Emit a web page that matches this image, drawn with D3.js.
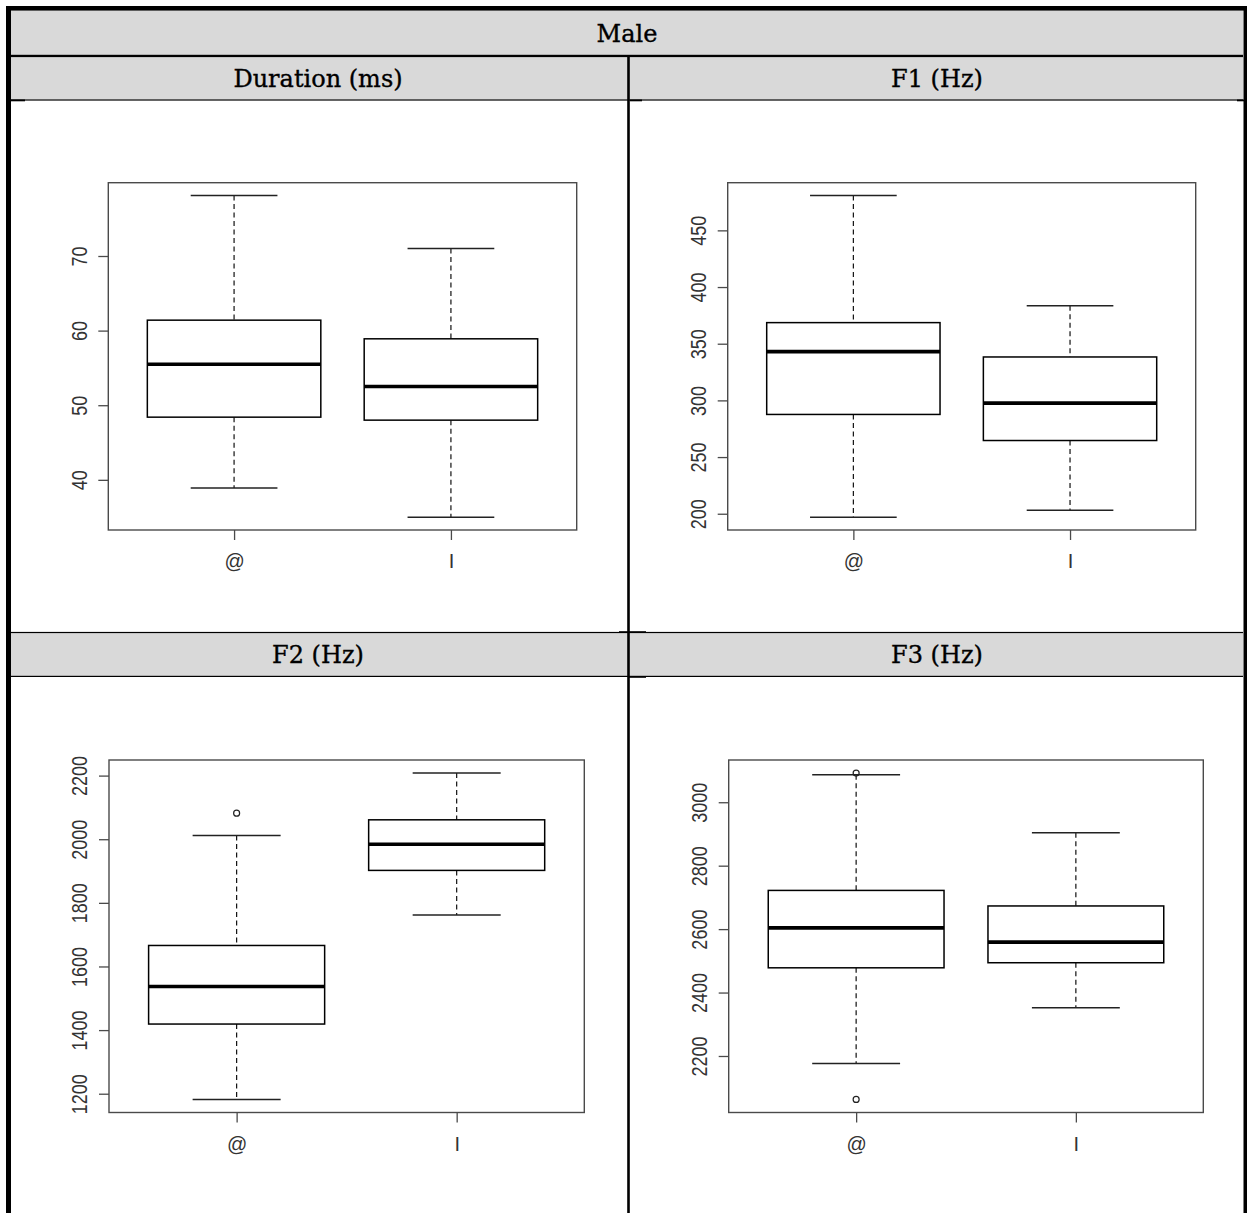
<!DOCTYPE html>
<html>
<head>
<meta charset="utf-8">
<script src="https://cdn.jsdelivr.net/npm/d3@7"></script>
<style>
  html, body { margin: 0; padding: 0; background: #fff; }
  svg { display: block; }
</style>
</head>
<body>
<svg id="chart" width="1247" height="1213"></svg>
<script>
// ---------------- DATA ----------------
const tableTitle = "Male";
const panelTitles = ["Duration (ms)", "F1 (Hz)", "F2 (Hz)", "F3 (Hz)"];
const categories = ["@", "I"];

// Duration (ms)
const durLower   = [38.9, 35.0];
const durQ1      = [48.4, 48.0];
const durMedian  = [55.5, 52.5];
const durQ3      = [61.4, 58.9];
const durUpper   = [78.1, 71.0];
const durOutliers = [[], []];
const durTicks   = [40, 50, 60, 70];

// F1 (Hz)
const f1Lower   = [197, 203];
const f1Q1      = [287.6, 264.6];
const f1Median  = [343, 297.6];
const f1Q3      = [368.6, 338.3];
const f1Upper   = [480.7, 383.6];
const f1Outliers = [[], []];
const f1Ticks   = [200, 250, 300, 350, 400, 450];

// F2 (Hz)
const f2Lower   = [1182, 1762];
const f2Q1      = [1419, 1902];
const f2Median  = [1537, 1984];
const f2Q3      = [1666, 2061];
const f2Upper   = [2012, 2208];
const f2Outliers = [[2082], []];
const f2Ticks   = [1200, 1400, 1600, 1800, 2000, 2200];

// F3 (Hz)
const f3Lower   = [2176, 2352];
const f3Q1      = [2478, 2494];
const f3Median  = [2604, 2559];
const f3Q3      = [2722, 2673];
const f3Upper   = [3087, 2904];
const f3Outliers = [[3092, 2063], []];
const f3Ticks   = [2200, 2400, 2600, 2800, 3000];

// ---------------- LAYOUT ----------------
const plotRects = [
  {left: 108.3, right: 576.7, top: 182.7, bottom: 530},
  {left: 727.7, right: 1195.7, top: 182.7, bottom: 530},
  {left: 109, right: 584.3, top: 760, bottom: 1112.5},
  {left: 728.7, right: 1203.3, top: 760, bottom: 1112.5}
];

const panels = [
  {lower: durLower, q1: durQ1, med: durMedian, q3: durQ3, upper: durUpper, out: durOutliers, ticks: durTicks},
  {lower: f1Lower, q1: f1Q1, med: f1Median, q3: f1Q3, upper: f1Upper, out: f1Outliers, ticks: f1Ticks},
  {lower: f2Lower, q1: f2Q1, med: f2Median, q3: f2Q3, upper: f2Upper, out: f2Outliers, ticks: f2Ticks},
  {lower: f3Lower, q1: f3Q1, med: f3Median, q3: f3Q3, upper: f3Upper, out: f3Outliers, ticks: f3Ticks}
];

const svg = d3.select("#chart");
const W = 1247, H = 1213;
const gray = "#d9d9d9";
const headerFont = "'DejaVu Serif', 'Liberation Serif', serif";
const axisFont = "'Liberation Sans', Arial, sans-serif";

// ---------------- TABLE ----------------
const tbl = svg.append("g");
tbl.append("rect").attr("x", 0).attr("y", 0).attr("width", W).attr("height", H).attr("fill", "#fff");
// header rows
tbl.append("rect").attr("x", 11).attr("y", 10.5).attr("width", 1232).attr("height", 44.5).attr("fill", gray);
tbl.append("rect").attr("x", 11).attr("y", 57).attr("width", 1232).attr("height", 42.5).attr("fill", gray);
tbl.append("rect").attr("x", 11).attr("y", 632.5).attr("width", 1232).attr("height", 43.5).attr("fill", gray);
// lines
tbl.append("rect").attr("x", 11).attr("y", 54.8).attr("width", 1232).attr("height", 2.3).attr("fill", "#000");
tbl.append("rect").attr("x", 11).attr("y", 99.4).attr("width", 1232).attr("height", 1.2).attr("fill", "#000");
tbl.append("rect").attr("x", 11).attr("y", 631.9).attr("width", 1232).attr("height", 1.2).attr("fill", "#000");
tbl.append("rect").attr("x", 11).attr("y", 675.8).attr("width", 1232).attr("height", 1.2).attr("fill", "#000");
// small cell-corner marks
tbl.append("rect").attr("x", 11).attr("y", 99.5).attr("width", 14).attr("height", 1.8).attr("fill", "#000");
tbl.append("rect").attr("x", 619).attr("y", 631.2).attr("width", 27).attr("height", 1.8).attr("fill", "#000");
tbl.append("rect").attr("x", 628).attr("y", 676).attr("width", 18).attr("height", 1.8).attr("fill", "#000");
tbl.append("rect").attr("x", 630).attr("y", 99.5).attr("width", 12).attr("height", 1.8).attr("fill", "#000");
tbl.append("rect").attr("x", 1237).attr("y", 99.5).attr("width", 7).attr("height", 1.8).attr("fill", "#000");
// vertical divider
tbl.append("rect").attr("x", 627.2).attr("y", 57).attr("width", 2.6).attr("height", H - 57).attr("fill", "#000");
// outer borders
tbl.append("rect").attr("x", 6).attr("y", 6).attr("width", 5).attr("height", H - 6).attr("fill", "#000");
tbl.append("rect").attr("x", 6).attr("y", 6).attr("width", W - 6).attr("height", 4.6).attr("fill", "#000");
tbl.append("rect").attr("x", 1243.5).attr("y", 6).attr("width", 4).attr("height", H - 6).attr("fill", "#000");

// header texts
function headerText(txt, cx, cy) {
  tbl.append("text").attr("x", cx).attr("y", cy)
    .attr("text-anchor", "middle").attr("dominant-baseline", "central")
    .attr("font-family", headerFont).attr("font-size", 24).attr("fill", "#000")
    .attr("stroke", "#000").attr("stroke-width", 0.35)
    .text(txt);
}
headerText(tableTitle, 627, 34);
headerText(panelTitles[0], 318, 79);
headerText(panelTitles[1], 937, 79);
headerText(panelTitles[2], 318, 655);
headerText(panelTitles[3], 937, 655);

// ---------------- BOXPLOTS ----------------
panels.forEach((p, i) => {
  const r = plotRects[i];
  const allVals = [].concat(p.lower, p.upper, ...p.out);
  const [mn, mx] = d3.extent(allVals);
  const pad = (mx - mn) * 0.04;
  const y = d3.scaleLinear().domain([mn - pad, mx + pad]).range([r.bottom, r.top]);
  const n = categories.length;
  const xpad = n * 0.04;
  const x = d3.scaleLinear().domain([0.5 - xpad, n + 0.5 + xpad]).range([r.left, r.right]);
  const g = svg.append("g");

  // frame
  g.append("rect").attr("x", r.left).attr("y", r.top)
    .attr("width", r.right - r.left).attr("height", r.bottom - r.top)
    .attr("fill", "none").attr("stroke", "#4a4a4a").attr("stroke-width", 1.4);

  // y axis
  const yAxis = d3.axisLeft(y).tickValues(p.ticks).tickSize(10).tickFormat(d3.format("d"));
  const ya = g.append("g").attr("transform", `translate(${r.left},0)`).call(yAxis);
  ya.select(".domain").remove();
  ya.selectAll(".tick line").attr("stroke", "#4a4a4a").attr("stroke-width", 1.3);
  ya.selectAll(".tick text").remove();
  ya.selectAll(".tick").append("g")
    .attr("transform", "translate(-29.5,0) scale(1.2,1) rotate(-90)")
    .append("text")
    .attr("text-anchor", "middle").attr("dy", "0.36em")
    .attr("font-family", axisFont).attr("font-size", 18).attr("fill", "#333")
    .text(d => d3.format("d")(d));

  // x axis
  const xAxis = d3.axisBottom(x).tickValues(d3.range(1, n + 1)).tickSize(10).tickFormat(d => categories[d - 1]);
  const xa = g.append("g").attr("transform", `translate(0,${r.bottom})`).call(xAxis);
  xa.select(".domain").remove();
  xa.selectAll(".tick line").attr("stroke", "#4a4a4a").attr("stroke-width", 1.3);
  xa.selectAll(".tick text").attr("y", 31).attr("dy", "0.36em")
    .attr("font-family", axisFont).attr("font-size", 20).attr("fill", "#333");

  categories.forEach((c, k) => {
    const cx = x(k + 1);
    const bx0 = x(k + 1 - 0.4), bx1 = x(k + 1 + 0.4);
    const cx0 = x(k + 1 - 0.2), cx1 = x(k + 1 + 0.2);
    // whiskers (dashed)
    g.append("line").attr("x1", cx).attr("x2", cx).attr("y1", y(p.upper[k])).attr("y2", y(p.q3[k]))
      .attr("stroke", "#111").attr("stroke-width", 1.2).attr("stroke-dasharray", "5,3.5");
    g.append("line").attr("x1", cx).attr("x2", cx).attr("y1", y(p.q1[k])).attr("y2", y(p.lower[k]))
      .attr("stroke", "#111").attr("stroke-width", 1.2).attr("stroke-dasharray", "5,3.5");
    // caps
    [p.upper[k], p.lower[k]].forEach(v => {
      g.append("line").attr("x1", cx0).attr("x2", cx1).attr("y1", y(v)).attr("y2", y(v))
        .attr("stroke", "#222").attr("stroke-width", 1.5);
    });
    // box
    g.append("rect").attr("x", bx0).attr("y", y(p.q3[k]))
      .attr("width", bx1 - bx0).attr("height", y(p.q1[k]) - y(p.q3[k]))
      .attr("fill", "#fff").attr("stroke", "#000").attr("stroke-width", 1.5);
    // median
    g.append("line").attr("x1", bx0).attr("x2", bx1).attr("y1", y(p.med[k])).attr("y2", y(p.med[k]))
      .attr("stroke", "#000").attr("stroke-width", 3.6);
    // outliers
    p.out[k].forEach(v => {
      g.append("circle").attr("cx", cx).attr("cy", y(v)).attr("r", 3)
        .attr("fill", "none").attr("stroke", "#222").attr("stroke-width", 1.2);
    });
  });
});
</script>
</body>
</html>
